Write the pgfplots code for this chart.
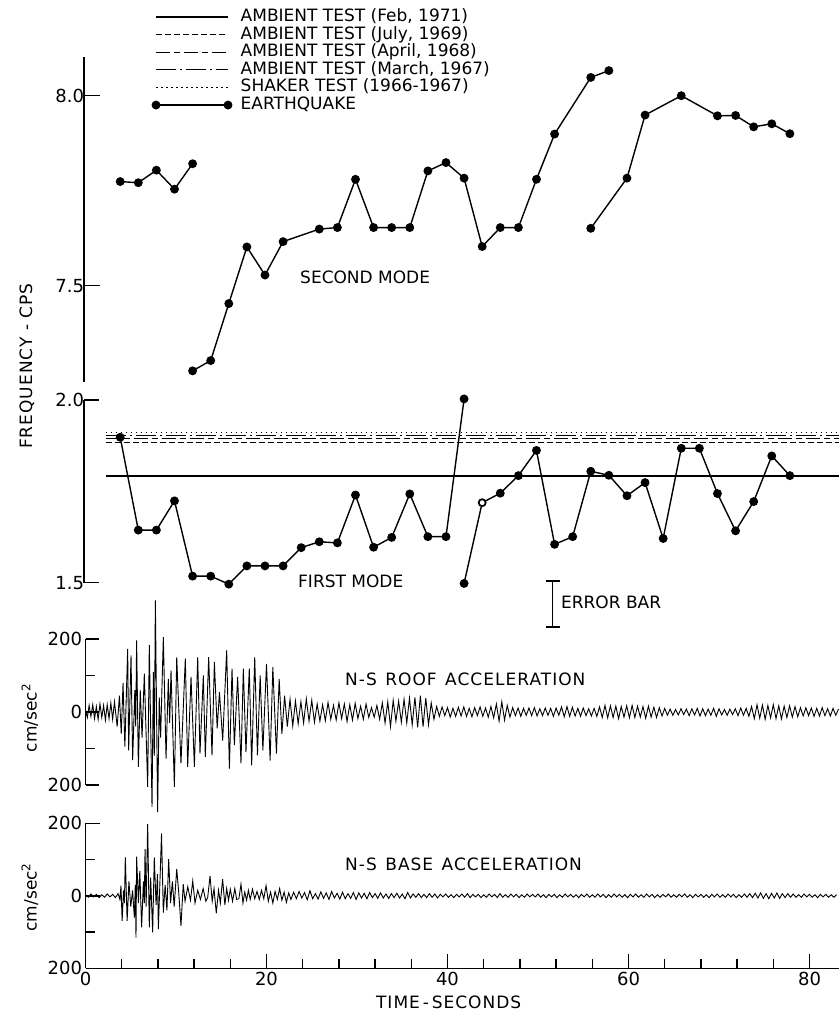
\documentclass[border=0pt]{standalone}
\usepackage{fontspec}
\setmainfont{DejaVu Sans}
\usepackage{pgfplots}
\pgfplotsset{compat=1.18}
\pgfplotsset{
  panel/.style={scale only axis, clip=false, axis x line=none, axis y line*=left,
    xtick=\empty, tick align=inside,
    axis line style={line width=1.4pt},
    tick style={line width=1.4pt, black},
    tick label style={font=\fontsize{18}{21}\selectfont},
    label style={font=\fontsize{17}{20}\selectfont}},
}
\begin{document}
\begin{tikzpicture}[font=\fontsize{17}{20}\selectfont]
\useasboundingbox (0pt,0pt) rectangle (839pt,-1015pt);

% ---------------- SECOND MODE ----------------
\begin{axis}[panel, at={(84pt,-382pt)}, anchor=south west,
  width=755pt, height=325pt, xmin=0, xmax=83.43, ymin=7.2466, ymax=8.1018,
  ytick={7.5,8.0}, yticklabels={7.5,8.0}, major tick length=16pt,
  yticklabel style={xshift=3.5pt},
  ylabel={\addfontfeature{LetterSpace=6}FREQUENCY - CPS},
  ylabel style={at={(axis description cs:-0.0755,0.049)}, anchor=center},
  legend style={draw=none, fill=none, inner sep=0pt, outer sep=0pt,
    at={(axis description cs:0.0905,1.149)}, anchor=north west,
    row sep=0.6pt, column sep=9pt, nodes={inner sep=0pt, text height=13pt, text depth=4pt},
    font=\fontsize{17}{20}\selectfont},
  legend cell align=left,
  legend image code/.code={\draw[#1] plot coordinates {(0pt,0pt) (72pt,0pt)};}
]
\addlegendimage{line width=1.2pt}
\addlegendentry{AMBIENT TEST (Feb, 1971)}
\addlegendimage{line width=0.9pt, dash pattern=on 6pt off 3pt}
\addlegendentry{AMBIENT TEST (July, 1969)}
\addlegendimage{line width=0.9pt, dash pattern=on 14pt off 4pt on 6pt off 4pt}
\addlegendentry{AMBIENT TEST (April, 1968)}
\addlegendimage{line width=0.9pt, dash pattern=on 20pt off 4pt on 2pt off 4pt}
\addlegendentry{AMBIENT TEST (March, 1967)}
\addlegendimage{line width=1pt, dash pattern=on 1.5pt off 3.5pt}
\addlegendentry{SHAKER TEST (1966-1967)}
\addlegendimage{line width=1.4pt, mark=*, mark size=3.7pt}
\addlegendentry{EARTHQUAKE}

\addplot[line width=1.4pt, mark=*, mark size=3.7pt] coordinates {
(4,7.774)(6,7.771)(8,7.804)(10,7.754)(12,7.821)};
\addplot[line width=1.4pt, mark=*, mark size=3.7pt] coordinates {
(12,7.276)(14,7.303)(16,7.453)(18,7.602)(20,7.528)(22,7.616)(26,7.649)(28,7.653)
(30,7.780)(32,7.653)(34,7.653)(36,7.653)(38,7.802)(40,7.824)(42,7.783)(44,7.603)
(46,7.653)(48,7.653)(50,7.780)(52,7.899)(56,8.048)(58,8.066)};
\addplot[line width=1.4pt, mark=*, mark size=3.7pt] coordinates {
(56,7.651)(60,7.783)(62,7.949)(66,8.0)(70,7.947)(72,7.948)(74,7.918)(76,7.926)(78,7.9)};
\node[anchor=west, inner sep=0pt] at (axis cs:23.87,7.522) {SECOND MODE};
\end{axis}

% ---------------- FIRST MODE ----------------
\begin{axis}[panel, at={(84pt,-582.7pt)}, anchor=south west,
  width=755pt, height=182.7pt, xmin=0, xmax=83.43, ymin=1.5, ymax=2.0,
  ytick={1.5,2.0}, yticklabels={1.5,2.0}, major tick length=15pt,
  yticklabel style={xshift=3.5pt}]
\addplot[line width=1.2pt] coordinates {(2.4,1.792)(83.43,1.792)};
\addplot[line width=0.9pt, dash pattern=on 6pt off 3pt] coordinates {(2.4,1.885)(83.43,1.885)};
\addplot[line width=0.9pt, dash pattern=on 14pt off 4pt on 6pt off 4pt] coordinates {(2.4,1.895)(83.43,1.895)};
\addplot[line width=0.9pt, dash pattern=on 20pt off 4pt on 2pt off 4pt] coordinates {(2.4,1.904)(83.43,1.904)};
\addplot[line width=1pt, dash pattern=on 1.5pt off 3.5pt] coordinates {(2.4,1.912)(83.43,1.912)};

\addplot[line width=1.4pt, mark=*, mark size=3.7pt] coordinates {
(4,1.898)(6,1.644)(8,1.644)(10,1.724)(12,1.518)(14,1.518)(16,1.496)(18,1.546)
(20,1.546)(22,1.546)(24,1.596)(26,1.612)(28,1.609)(30,1.740)(32,1.597)(34,1.624)
(36,1.743)(38,1.626)(40,1.626)(42,2.003)};
\addplot[line width=1.4pt, mark=*, mark size=3.7pt] coordinates {
(42,1.498)(44,1.719)(46,1.745)(48,1.793)(50,1.862)(52,1.605)(54,1.626)(56,1.805)
(58,1.794)(60,1.738)(62,1.774)(64,1.621)(66,1.868)(68,1.868)(70,1.744)(72,1.642)
(74,1.722)(76,1.847)(78,1.793)};
\addplot[only marks, mark=*, mark size=3.2pt, mark options={fill=white, line width=1.2pt}]
  coordinates {(44,1.719)};
% error bar
\addplot[line width=1.4pt] coordinates {(51.8,1.3786)(51.8,1.5046)};
\addplot[line width=1.4pt] coordinates {(51.03,1.5046)(52.57,1.5046)};
\addplot[line width=1.4pt] coordinates {(51.03,1.3786)(52.57,1.3786)};
\node[anchor=west, inner sep=0pt] at (axis cs:23.65,1.5045) {FIRST MODE};
\node[anchor=west, inner sep=0pt] at (axis cs:52.7,1.447) {ERROR BAR};
\end{axis}

% ---------------- ROOF ACCELERATION ----------------
\begin{axis}[panel, at={(85.5pt,-785pt)}, anchor=south west,
  width=753.5pt, height=146pt, xmin=0, xmax=83.26, ymin=-200, ymax=200,
  ytick={-200,0,200}, yticklabels={200,0,200}, minor ytick={-100,100},
  major tick length=14pt, minor tick length=10pt,
  ylabel={cm/sec\textsuperscript{2}},
  ylabel style={at={(axis description cs:-0.0737,0.459)}, anchor=center}]
\addplot[line width=0.9pt] coordinates {
(0,5)(0.2,-15)(0.4,18)(0.6,-12)(0.8,20)(1.0,-18)(1.2,15)(1.4,-20)(1.6,22)(1.8,-15)
(2.0,18)(2.2,-22)(2.4,20)(2.6,-18)(2.8,25)(3.0,-20)(3.2,28)(3.5,-40)(3.75,45)(3.95,-60)
(4.15,80)(4.35,-95)(4.66,173)(4.77,-105)(5.03,155)(5.21,-132)(5.45,60)(5.55,-40)(5.65,196)(5.84,-150)
(6.05,60)(6.25,-70)(6.5,105)(6.87,-205)(7.05,183)(7.35,-260)(7.5,110)(7.6,-120)(7.72,306)(7.97,-274)
(8.15,40)(8.3,-70)(8.6,205)(8.9,-128)(9.15,90)(9.3,-30)(9.45,114)(9.82,-205)(10.08,150)(10.55,-141)
(11.03,146)(11.29,-150)(11.66,96)(12.03,-150)(12.4,150)(12.65,-114)(13.02,100)(13.24,-123)(13.61,150)(13.98,-119)
(14.24,137)(14.55,-45)(14.8,55)(15.16,-78)(15.6,169)(15.9,-155)(16.19,119)(16.45,-91)(16.81,96)(17.18,-141)
(17.44,119)(17.73,-110)(18.1,119)(18.36,-146)(18.7,150)(19.0,-119)(19.3,100)(19.6,-105)(20.0,132)(20.4,-133)
(20.7,123)(21.1,-114)(21.4,91)(21.7,-60)
(22.0,45)(22.3,-40)(22.6,35)(22.9,-38)(23.2,30)(23.5,-32)(23.8,28)(24.1,-30)(24.4,36)(24.7,-25)
(25.0,32)(25.3,-28)(25.6,22)(25.9,-25)(26.2,20)(26.5,-24)(26.8,26)(27.1,-20)(27.4,18)(27.7,-22)
(28.0,25)(28.3,-18)(28.6,22)(28.9,-26)(29.2,20)(29.5,-22)(29.8,24)(30.1,-18)(30.4,16)(30.7,-20)
(31.0,22)(31.3,-15)(31.6,12)(31.9,-14)(32.2,18)(32.5,-20)(32.8,25)(33.1,-30)(33.4,28)(33.7,-40)
(34.0,32)(34.3,-25)(34.6,30)(34.9,-28)(35.2,35)(35.5,-30)(35.8,38)(36.1,-35)(36.4,40)(36.7,-42)
(37.0,45)(37.3,-40)(37.6,38)(37.9,-35)(38.2,25)(38.5,-20)(38.8,15)(39.1,-12)(39.4,14)(39.7,-10)
(40.0,12)(40.3,-14)(40.6,10)(40.9,-12)(41.2,13)(41.5,-11)(41.8,14)(42.1,-12)(42.4,10)(42.7,-13)
(43.0,12)(43.3,-10)(43.6,14)(43.9,-12)(44.2,11)(44.5,-14)(44.8,15)(45.1,-16)(45.4,22)(45.7,-25)
(46.0,28)(46.3,-22)(46.6,18)(46.9,-14)(47.2,12)(47.5,-10)(47.8,11)(48.1,-12)(48.4,10)(48.7,-9)
(49.0,11)(49.3,-10)(49.6,12)(49.9,-11)(50.2,9)(50.5,-10)(50.8,11)(51.1,-9)(51.4,10)(51.7,-12)
(52.0,11)(52.3,-9)(52.6,14)(52.9,-13)(53.2,15)(53.5,-12)(53.8,13)(54.1,-11)(54.4,10)(54.7,-12)
(55.0,11)(55.3,-10)(55.6,9)(55.9,-11)(56.2,10)(56.5,-12)(56.8,14)(57.1,-15)(57.4,18)(57.7,-16)
(58.0,17)(58.3,-15)(58.6,16)(58.9,-18)(59.2,15)(59.5,-14)(59.8,17)(60.1,-16)(60.4,18)(60.7,-15)
(61.0,16)(61.3,-14)(61.6,15)(61.9,-17)(62.2,16)(62.5,-14)(62.8,13)(63.1,-15)(63.4,12)(63.7,-11)
(64.0,10)(64.3,-9)(64.6,8)(64.9,-9)(65.2,7)(65.5,-8)(65.8,9)(66.1,-7)(66.4,8)(66.7,-10)
(67.0,9)(67.3,-8)(67.6,10)(67.9,-11)(68.2,9)(68.5,-10)(68.8,8)(69.1,-9)(69.4,10)(69.7,-12)
(70.0,9)(70.3,-8)(70.6,7)(70.9,-9)(71.2,8)(71.5,-7)(71.8,9)(72.1,-10)(72.4,11)(72.7,-9)
(73.0,10)(73.3,-12)(73.6,15)(73.9,-18)(74.2,20)(74.5,-17)(74.8,19)(75.1,-20)(75.4,18)(75.7,-16)
(76.0,20)(76.3,-18)(76.6,17)(76.9,-19)(77.2,16)(77.5,-15)(77.8,17)(78.1,-14)(78.4,15)(78.7,-13)
(79.0,12)(79.3,-11)(79.6,12)(79.9,-10)(80.2,11)(80.5,-12)(80.8,10)(81.1,-11)(81.4,12)(81.7,-10)
(82.0,9)(82.3,-11)(82.6,10)(82.9,-9)(83.2,8)};
\node[anchor=west, inner sep=0pt] at (axis cs:28.67,88.5)
  {\addfontfeature{LetterSpace=6}N-S\hspace{0.5em}ROOF\hspace{0.5em}ACCELERATION};
\end{axis}

% ---------------- BASE ACCELERATION ----------------
\begin{axis}[panel, at={(85.5pt,-968.3pt)}, anchor=south west,
  width=753.5pt, height=145pt, xmin=0, xmax=83.26, ymin=-200, ymax=200,
  hide x axis=false, axis x line*=bottom,
  xtick={0,20,40,60,80}, xticklabels={0,20,40,60,80},
  minor xtick={4,8,12,16,24,28,32,36,44,48,52,56,64,68,72,76},
  ytick={-200,0,200}, yticklabels={200,0,200}, minor ytick={-100,100},
  major tick length=14.5pt, minor tick length=9.5pt,
  ylabel={cm/sec\textsuperscript{2}},
  ylabel style={at={(axis description cs:-0.0737,0.49)}, anchor=center},
  xlabel={\addfontfeature{LetterSpace=6}TIME\,-\,SECONDS},
  xlabel style={at={(axis description cs:0.482,0)}, anchor=north, yshift=-24pt}]
\addplot[line width=0.9pt] coordinates {
(0,3)(0.3,-4)(0.6,5)(0.9,-3)(1.2,4)(1.5,-5)(1.8,3)(2.1,-4)(2.4,5)(2.7,-3)
(3.0,4)(3.3,-5)(3.6,6)(3.8,-10)(3.92,28)(4.05,-69)(4.2,15)(4.3,-20)(4.4,106)(4.6,-69)
(4.8,40)(5.0,-30)(5.2,15)(5.4,-60)(5.5,30)(5.58,-115)(5.65,108)(5.85,-20)(6.0,69)(6.2,-87)
(6.4,40)(6.5,-20)(6.58,129)(6.7,-30)(6.87,198)(7.05,-87)(7.2,50)(7.42,-101)(7.6,106)(7.8,-25)
(7.95,60)(8.05,-92)(8.2,20)(8.4,172)(8.6,-46)(8.8,30)(9.0,-40)(9.19,101)(9.4,-20)(9.6,40)
(9.8,-30)(10.08,74)(10.3,10)(10.55,-83)(10.8,32)(11.0,-15)(11.3,25)(11.6,-12)(11.85,41)(12.1,-20)
(12.4,15)(12.7,-10)(13.0,20)(13.3,-15)(13.5,-5)(13.76,55)(14.0,-15)(14.2,20)(14.45,-48)(14.7,15)
(14.9,-20)(15.15,46)(15.4,-25)(15.6,20)(15.8,-12)(16.0,18)(16.25,-15)(16.5,20)(16.7,-10)(16.95,-8)
(17.18,32)(17.4,-20)(17.6,10)(17.8,-12)(18.0,15)(18.2,-10)(18.45,18)(18.7,-8)(18.95,12)(19.2,-10)
(19.45,15)(19.7,-8)(19.95,28)(20.2,-15)(20.45,10)(20.7,-20)(20.95,12)(21.2,-10)(21.45,20)(21.7,-12)
(21.95,10)(22.2,-18)(22.45,8)(22.7,-10)
(23.0,10)(23.3,-8)(23.6,12)(23.9,-6)(24.2,9)(24.5,-11)(24.8,14)(25.1,-8)(25.4,6)(25.7,-9)
(26.0,11)(26.3,-7)(26.6,8)(26.9,-10)(27.2,12)(27.5,-6)(27.8,7)(28.1,-9)(28.4,10)(28.7,-8)
(29.0,6)(29.3,-7)(29.6,9)(29.9,-10)(30.2,8)(30.5,-6)(30.8,7)(31.1,-8)(31.4,9)(31.7,-5)
(32.0,6)(32.3,-7)(32.6,8)(32.9,-6)(33.2,5)(33.5,-7)(33.8,6)(34.1,-5)(34.4,7)(34.7,-6)
(35.0,5)(35.3,-8)(35.6,9)(35.9,-6)(36.2,5)(36.5,-4)(36.8,6)(37.1,-5)(37.4,4)(37.7,-5)
(38.0,6)(38.3,-4)(38.6,5)(38.9,-6)(39.2,4)(39.5,-3)(39.8,5)(40.1,-4)(40.4,3)(40.7,-5)
(41.0,4)(41.3,-3)(41.6,5)(41.9,-4)(42.2,6)(42.5,-5)(42.8,4)(43.1,-3)(43.4,4)(43.7,-5)
(44.0,3)(44.3,-4)(44.6,5)(44.9,-3)(45.2,4)(45.5,-5)(45.8,6)(46.1,-4)(46.4,3)(46.7,-4)
(47.0,5)(47.3,-3)(47.6,4)(47.9,-5)(48.2,3)(48.5,-4)(48.8,5)(49.1,-3)(49.4,4)(49.7,-3)
(50.0,5)(50.3,-4)(50.6,3)(50.9,-5)(51.2,4)(51.5,-3)(51.8,4)(52.1,-5)(52.4,3)(52.7,-4)
(53.0,5)(53.3,-3)(53.6,4)(53.9,-4)(54.2,3)(54.5,-5)(54.8,4)(55.1,-3)(55.4,5)(55.7,-4)
(56.0,3)(56.3,-4)(56.6,5)(56.9,-3)(57.2,4)(57.5,-5)(57.8,3)(58.1,-4)(58.4,5)(58.7,-3)
(59.0,4)(59.3,-4)(59.6,3)(59.9,-5)(60.2,4)(60.5,-3)(60.8,5)(61.1,-4)(61.4,3)(61.7,-4)
(62.0,5)(62.3,-3)(62.6,4)(62.9,-5)(63.2,3)(63.5,-4)(63.8,4)(64.1,-3)(64.4,5)(64.7,-4)
(65.0,3)(65.3,-4)(65.6,4)(65.9,-3)(66.2,5)(66.5,-4)(66.8,3)(67.1,-5)(67.4,4)(67.7,-3)
(68.0,4)(68.3,-4)(68.6,3)(68.9,-5)(69.2,4)(69.5,-3)(69.8,5)(70.1,-4)(70.4,3)(70.7,-4)
(71.0,5)(71.3,-3)(71.6,4)(71.9,-5)(72.2,3)(72.5,-4)(72.8,5)(73.1,-4)(73.4,6)(73.7,-5)
(74.0,7)(74.3,-6)(74.6,8)(74.9,-7)(75.2,6)(75.5,-8)(75.8,7)(76.1,-6)(76.4,8)(76.7,-7)
(77.0,6)(77.3,-5)(77.6,6)(77.9,-4)(78.2,5)(78.5,-4)(78.8,3)(79.1,-4)(79.4,5)(79.7,-3)
(80.0,4)(80.3,-4)(80.6,3)(80.9,-5)(81.2,4)(81.5,-3)(81.8,4)(82.1,-4)(82.4,3)(82.7,-4)
(83.0,3)};
\node[anchor=west, inner sep=0pt] at (axis cs:28.67,86)
  {\addfontfeature{LetterSpace=6}N-S\hspace{0.5em}BASE\hspace{0.5em}ACCELERATION};
\end{axis}
\end{tikzpicture}
\end{document}
